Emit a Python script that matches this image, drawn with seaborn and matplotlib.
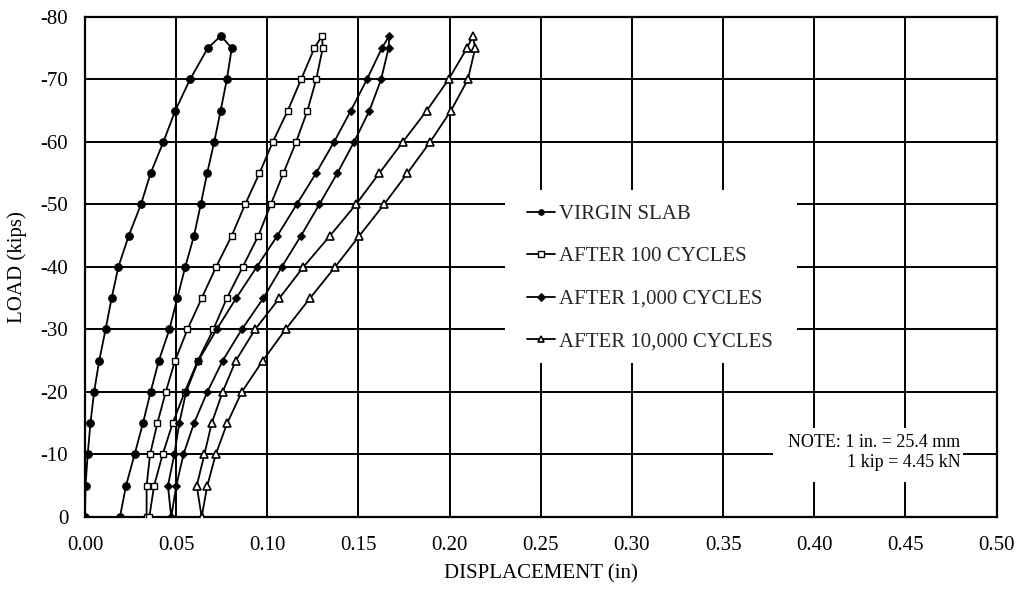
import matplotlib
matplotlib.use("Agg")
import matplotlib.pyplot as plt
from matplotlib.patches import Rectangle
import seaborn as sns
import pandas as pd

# ---- data ----
load = [0, -5, -10, -15, -20, -25, -30, -35, -40, -45, -50, -55, -60, -65, -70, -75, -77,
        -75, -70, -65, -60, -55, -50, -45, -40, -35, -30, -25, -20, -15, -10, -5, 0]

virgin_disp = [0.000, 0.0003, 0.0015, 0.003, 0.005, 0.0078, 0.0113, 0.0146, 0.0183, 0.024,
               0.0307, 0.036, 0.043, 0.0495, 0.0576, 0.0673, 0.0746,
               0.0805, 0.0778, 0.0744, 0.0709, 0.067, 0.0635, 0.0598, 0.055, 0.0506,
               0.0463, 0.0405, 0.036, 0.0318, 0.0272, 0.0225, 0.0192]

c100_disp = [0.0338, 0.0338, 0.0357, 0.0397, 0.0443, 0.0494, 0.0562, 0.064, 0.0719, 0.0805,
             0.0878, 0.0957, 0.103, 0.1112, 0.1185, 0.1258, 0.1300,
             0.1304, 0.1268, 0.122, 0.1158, 0.1088, 0.1019, 0.0951, 0.0865, 0.0778,
             0.0704, 0.0619, 0.0547, 0.0481, 0.0426, 0.0379, 0.0353]

c1000_disp = [0.0473, 0.0455, 0.049, 0.0517, 0.0555, 0.0622, 0.0722, 0.0829, 0.0942, 0.1055,
              0.1161, 0.1267, 0.1366, 0.1458, 0.1546, 0.1628, 0.1669,
              0.1665, 0.1624, 0.156, 0.1476, 0.1384, 0.1285, 0.1185, 0.1079, 0.0978,
              0.086, 0.0755, 0.0671, 0.0598, 0.054, 0.0501, 0.0473]

c10000_disp = [0.064, 0.0613, 0.0655, 0.0695, 0.0755, 0.0827, 0.0933, 0.1066, 0.1198, 0.1344,
               0.1486, 0.1614, 0.1743, 0.1874, 0.1994, 0.2095, 0.2128,
               0.214, 0.21, 0.2007, 0.1893, 0.1768, 0.164, 0.1505, 0.1372, 0.1234,
               0.110, 0.0975, 0.086, 0.078, 0.0717, 0.0671, 0.064]

series_names = ["VIRGIN SLAB", "AFTER 100 CYCLES", "AFTER 1,000 CYCLES", "AFTER 10,000 CYCLES"]

x_ticks = [0.00, 0.05, 0.10, 0.15, 0.20, 0.25, 0.30, 0.35, 0.40, 0.45, 0.50]
x_tick_labels = ["0.00", "0.05", "0.10", "0.15", "0.20", "0.25", "0.30", "0.35", "0.40", "0.45", "0.50"]
y_ticks = [0, -10, -20, -30, -40, -50, -60, -70, -80]
y_tick_labels = ["0", "-10", "-20", "-30", "-40", "-50", "-60", "-70", "-80"]

# ---- style ----
sns.set_theme(style="white")
plt.rcParams["font.family"] = ["Liberation Serif", "DejaVu Serif"]

fig = plt.figure(figsize=(10.2, 5.98), dpi=100)
ax = fig.add_axes([0.0833, 0.1355, 0.8938, 0.8361])

styles = [
    dict(marker="o", markersize=5.5, markerfacecolor="black", markeredgecolor="black"),
    dict(marker="s", markersize=5, markerfacecolor="white", markeredgecolor="black", markeredgewidth=1.0),
    dict(marker="D", markersize=4.2, markerfacecolor="black", markeredgecolor="black"),
    dict(marker="^", markersize=6, markerfacecolor="white", markeredgecolor="black", markeredgewidth=1.2),
]

for name, disp, st in zip(series_names, [virgin_disp, c100_disp, c1000_disp, c10000_disp], styles):
    df = pd.DataFrame({"disp": disp, "load": load})
    sns.lineplot(data=df, x="disp", y="load", sort=False, estimator=None, ax=ax,
                 color="black", linewidth=1.3, label=name, zorder=3, **st)

ax.set_xlim(0, 0.5)
ax.set_ylim(0, -80)
ax.set_xticks(x_ticks)
ax.set_xticklabels(x_tick_labels)
ax.set_yticks(y_ticks)
ax.set_yticklabels(y_tick_labels)
ax.tick_params(axis="both", length=0, labelsize=15, colors="black")
ax.tick_params(axis="x", pad=14)
ax.tick_params(axis="y", pad=12)

ax.set_axisbelow(True)
ax.grid(True, color="black", linewidth=1.4)
for sp in ax.spines.values():
    sp.set_visible(True)
    sp.set_color("black")
    sp.set_linewidth(1.6)

ax.set_xlabel("DISPLACEMENT (in)", fontsize=15, labelpad=6, color="black")
ax.set_ylabel("LOAD (kips)", fontsize=15, labelpad=10, color="black")

# white boxes behind legend and note
ax.add_patch(Rectangle((0.4607, 0.308), 0.3203, 0.346, transform=ax.transAxes,
                       facecolor="white", edgecolor="none", zorder=1))
ax.add_patch(Rectangle((0.7546, 0.07), 0.2081, 0.108, transform=ax.transAxes,
                       facecolor="white", edgecolor="none", zorder=1))

leg = ax.legend(loc="upper left", bbox_to_anchor=(0.4845, 0.6252), frameon=False,
                fontsize=15, handlelength=1.35, handletextpad=0.2, labelspacing=1.1,
                borderpad=0, borderaxespad=0)
for h in leg.legend_handles:
    h.set_markersize(4)

ax.text(0.9605, 0.129, "NOTE: 1 in. = 25.4 mm\n1 kip = 4.45 kN", transform=ax.transAxes,
        ha="right", va="center", multialignment="right", fontsize=13, color="black", zorder=4)

fig.savefig("out.png", dpi=100)
